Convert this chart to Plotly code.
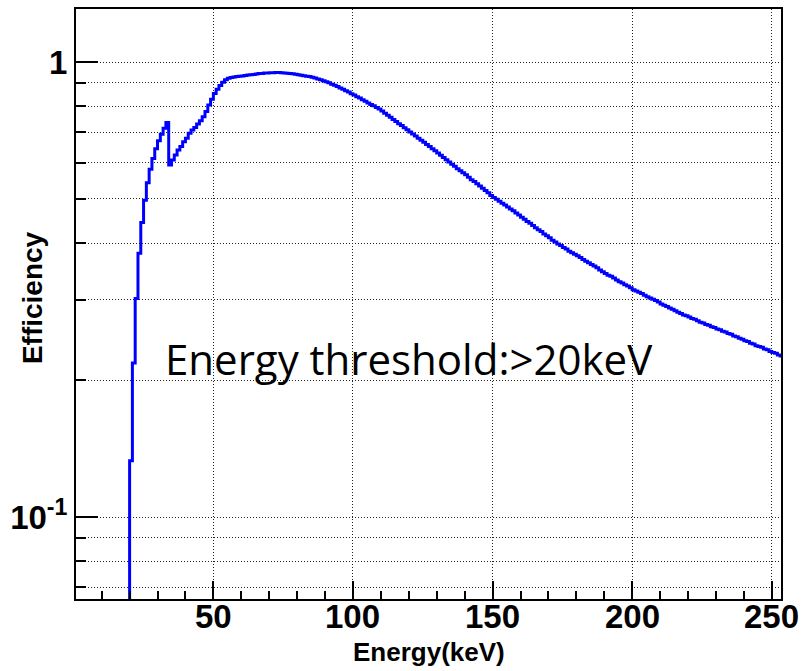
import plotly.graph_objects as go

# Histogram bins: left edge energy (keV), 1 keV wide
bin_start = 19
efficiency = [
    0.0,                                                                  # 19 (below threshold)
    0.133, 0.218, 0.302, 0.380, 0.444, 0.497, 0.543, 0.581, 0.614, 0.645,  # 20-29
    0.671, 0.694, 0.715, 0.736, 0.594, 0.609, 0.625, 0.641, 0.652, 0.668,  # 30-39
    0.680, 0.697, 0.709, 0.718, 0.731, 0.743, 0.758, 0.778, 0.804, 0.828,  # 40-49
    0.853, 0.871, 0.888, 0.903, 0.914, 0.921, 0.925, 0.927, 0.929, 0.930,  # 50-59
    0.932, 0.934, 0.936, 0.938, 0.939, 0.941, 0.943, 0.944, 0.946, 0.946,  # 60-69
    0.947, 0.947, 0.948, 0.948, 0.947, 0.946, 0.945, 0.944, 0.942, 0.940,  # 70-79
    0.937, 0.935, 0.933, 0.931, 0.929, 0.926, 0.922, 0.918, 0.914, 0.909,  # 80-89
    0.905, 0.900, 0.894, 0.889, 0.883, 0.877, 0.871, 0.865, 0.859, 0.852,  # 90-99
    0.846, 0.839, 0.833, 0.826, 0.820, 0.813, 0.807, 0.801, 0.794, 0.788,  # 100-109
    0.780, 0.772, 0.764, 0.756, 0.748, 0.740, 0.732, 0.725, 0.717, 0.710,  # 110-119
    0.702, 0.695, 0.688, 0.680, 0.673, 0.666, 0.659, 0.652, 0.645, 0.638,  # 120-129
    0.631, 0.624, 0.617, 0.610, 0.603, 0.596, 0.590, 0.583, 0.577, 0.571,  # 130-139
    0.565, 0.558, 0.551, 0.546, 0.540, 0.534, 0.528, 0.522, 0.516, 0.509,  # 140-149
    0.504, 0.499, 0.494, 0.489, 0.485, 0.480, 0.475, 0.471, 0.466, 0.461,  # 150-159
    0.456, 0.451, 0.446, 0.442, 0.437, 0.432, 0.428, 0.424, 0.419, 0.415,  # 160-169
    0.411, 0.406, 0.402, 0.398, 0.395, 0.391, 0.388, 0.384, 0.381, 0.378,  # 170-179
    0.375, 0.372, 0.368, 0.365, 0.362, 0.359, 0.356, 0.353, 0.349, 0.346,  # 180-189
    0.343, 0.340, 0.338, 0.335, 0.332, 0.329, 0.327, 0.324, 0.322, 0.319,  # 190-199
    0.316, 0.314, 0.312, 0.310, 0.307, 0.305, 0.303, 0.301, 0.299, 0.297,  # 200-209
    0.294, 0.292, 0.290, 0.288, 0.286, 0.284, 0.282, 0.280, 0.278, 0.277,  # 210-219
    0.275, 0.273, 0.272, 0.270, 0.268, 0.267, 0.265, 0.264, 0.262, 0.261,  # 220-229
    0.259, 0.258, 0.256, 0.255, 0.253, 0.252, 0.250, 0.249, 0.247, 0.246,  # 230-239
    0.244, 0.243, 0.241, 0.240, 0.238, 0.237, 0.236, 0.234, 0.233, 0.231,  # 240-249
    0.230, 0.229, 0.227, 0.226,                                            # 250-253
]

x_tickvals = [50, 100, 150, 200, 250]
x_ticktext = ["50", "100", "150", "200", "250"]
y_major_vals = [0.1, 1]
y_major_text = ["10<sup>-1</sup>", "1"]
y_minor_vals = [0.07, 0.08, 0.09, 0.2, 0.3, 0.4, 0.5, 0.6, 0.7, 0.8, 0.9]
annotation_text = "Energy threshold:>20keV"
x_title = "Energy(keV)"
y_title = "Efficiency"

edges = [bin_start + i for i in range(len(efficiency) + 1)]
floor = 1e-4  # plotting floor for empty bins on a log axis
yvals = [v if v > 0 else floor for v in efficiency]
yvals = yvals + [yvals[-1]]

fig = go.Figure()
fig.add_trace(go.Scatter(
    x=edges, y=yvals, mode="lines", line_shape="hv",
    line=dict(color="#0000ff", width=3), showlegend=False, hoverinfo="skip",
))

grid_dash = "1px,2px"
grid_color = "#222222"
bold = dict(family="Liberation Sans, Arial, sans-serif", weight="bold", color="black")

annotations = [
    dict(text=annotation_text, xref="paper", yref="paper",
         x=0.124, y=0.408, xanchor="left", yanchor="middle", showarrow=False,
         font=dict(family="Open Sans, sans-serif", size=42, color="black")),
    dict(text=x_title, xref="paper", yref="paper",
         x=0.5, y=-0.089, xanchor="center", yanchor="middle", showarrow=False,
         font=dict(size=26, **bold)),
    dict(text=y_title, xref="paper", yref="paper", textangle=-90,
         x=-0.0624, y=0.51, xanchor="center", yanchor="middle", showarrow=False,
         font=dict(size=28, **bold)),
]
# x tick labels placed on the x axis scale
for v, t in zip(x_tickvals, x_ticktext):
    annotations.append(dict(
        text=t, xref="x", yref="paper", x=v, y=-0.030,
        xanchor="center", yanchor="middle", showarrow=False,
        font=dict(size=33, **bold)))

fig.update_layout(
    width=803, height=671,
    margin=dict(l=76, r=22, t=9, b=72, autoexpand=False),
    paper_bgcolor="white", plot_bgcolor="white",
    xaxis=dict(
        automargin=False,
        range=[0.8, 253.3],
        tickmode="array", tickvals=x_tickvals, showticklabels=False,
        ticks="inside", ticklen=18, tickwidth=2, tickcolor="black",
        showline=True, linecolor="black", linewidth=2, mirror=True,
        showgrid=True, gridcolor=grid_color, gridwidth=1, griddash=grid_dash,
        zeroline=False,
        minor=dict(dtick=10, tick0=0, ticks="inside", ticklen=8, tickwidth=2,
                   tickcolor="black", showgrid=False),
    ),
    yaxis=dict(
        automargin=False,
        type="log", range=[-1.1802, 0.1165],
        tickmode="array", tickvals=y_major_vals, ticktext=y_major_text,
        ticks="inside", ticklen=22, tickwidth=2, tickcolor="black",
        tickfont=dict(size=33, **bold),
        showline=True, linecolor="black", linewidth=2, mirror=True,
        showgrid=True, gridcolor=grid_color, gridwidth=1, griddash=grid_dash,
        zeroline=False,
        minor=dict(tickmode="array", tickvals=y_minor_vals, ticks="inside",
                   ticklen=10, tickwidth=2, tickcolor="black",
                   showgrid=True, gridcolor=grid_color, gridwidth=1, griddash=grid_dash),
    ),
    annotations=annotations,
)

fig.write_html("out.html")
